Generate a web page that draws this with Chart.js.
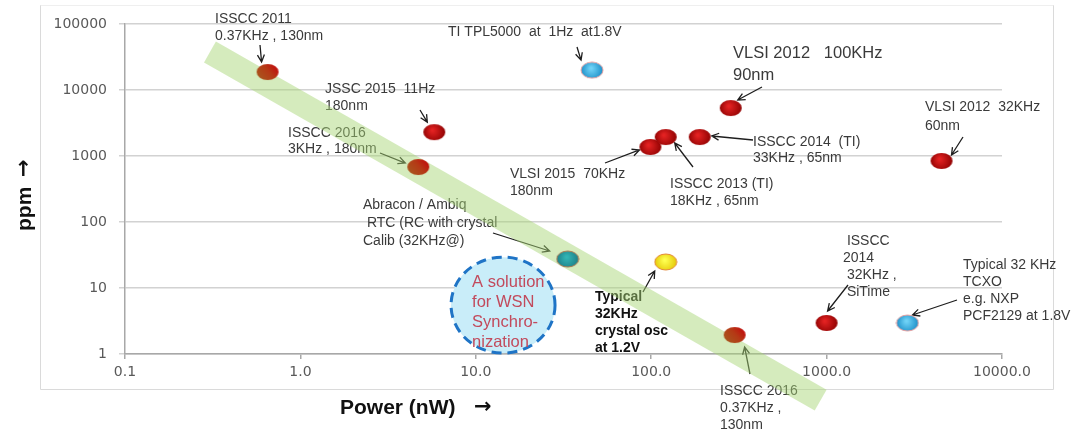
<!DOCTYPE html>
<html>
<head>
<meta charset="utf-8">
<script src="https://cdn.jsdelivr.net/npm/chart.js@4.4.1/dist/chart.umd.min.js"></script>
<style>
  html, body { margin:0; padding:0; background:#fff; }
</style>
</head>
<body>
<canvas id="chart" width="1078" height="432"></canvas>
<script>
// one entry per design
const names = ['ISSCC 2011','JSSC 2015','ISSCC 2016 3KHz','TI TPL5000','VLSI 2015','ISSCC 2013 (TI)','ISSCC 2014 (TI)',
  'VLSI 2012 100KHz','VLSI 2012 32KHz','Abracon / Ambiq','Typical crystal','ISSCC 2016 0.37KHz','ISSCC 2014 SiTime','Typical TCXO'];
const power = [0.65, 5.8, 4.7, 46, 99, 121, 189, 284, 4520, 33.4, 121, 299, 1000, 2890];
const ppm   = [18700, 2300, 680, 20000, 1370, 1940, 1940, 5330, 840, 27.5, 24.8, 1.94, 2.95, 2.95];
const kinds = ['brown','red','brown','blue','red','red','red','red','red','teal','yellow','brown','red','blue'];

// green trend band ends
const trendPower = [0.305, 925];
const trendPpm   = [37700, 0.2];

// "A solution for WSN" zone centre
const wsnPower = 14.3;
const wsnPpm = 5.5;

const xTicks = [0.1, 1, 10, 100, 1000, 10000];
const xTickLabels = ['0.1','1.0','10.0','100.0','1000.0','10000.0'];
const yTicks = [1, 10, 100, 1000, 10000, 100000];
const yTickLabels = ['1','10','100','1000','10000','100000'];

const FONT = '"Liberation Sans", Arial, sans-serif';

// callouts: text block + arrow that ends next to point i
const notes = [
  { i:0,  x:215, y:19,  lh:17, lines:['ISSCC 2011','0.37KHz , 130nm'], from:[260,45], d:[-6,-10] },
  { i:1,  x:325, y:89,  lh:17, lines:['JSSC 2015  11Hz','180nm'], from:[420,110], d:[-7,-10] },
  { i:2,  x:288, y:133, lh:16, lines:['ISSCC 2016','3KHz , 180nm'], from:[380,153], d:[-13,-4] },
  { i:3,  x:448, y:32,  lh:17, lines:['TI TPL5000  at  1Hz  at1.8V'], from:[577,47], d:[-11,-10] },
  { i:4,  x:510, y:174, lh:17, lines:['VLSI 2015  70KHz','180nm'], from:[605,163], d:[-11,3] },
  { i:5,  x:670, y:184, lh:17, lines:['ISSCC 2013 (TI)','18KHz , 65nm'], from:[693,167], d:[9,6] },
  { i:6,  x:753, y:142, lh:16, lines:['ISSCC 2014  (TI)','33KHz , 65nm'], from:[753,140], d:[12,-1] },
  { i:7,  x:733, y:53,  lh:22, size:16.5, lines:['VLSI 2012   100KHz','90nm'], from:[762,87], d:[7,-8] },
  { i:8,  x:925, y:107, lh:19, lines:['VLSI 2012  32KHz','60nm'], from:[963,137], d:[10,-6] },
  { i:9,  x:363, y:205, lh:18, lines:['Abracon / Ambiq',' RTC (RC with crystal','Calib (32KHz@)'], from:[493,233], d:[-18,-8] },
  { i:10, x:595, y:297, lh:17, bold:true, color:'#111', lines:['Typical','32KHz','crystal osc','at 1.2V'], from:[643,292], d:[-11,9] },
  { i:11, x:720, y:391, lh:17, lines:['ISSCC 2016','0.37KHz ,','130nm'], from:[750,374], d:[10,12] },
  { i:12, x:843, y:241, lh:17, lines:[' ISSCC','2014',' 32KHz ,',' SiTime'], from:[848,285], d:[1,-12] },
  { i:13, x:963, y:265, lh:17, lines:['Typical 32 KHz','TCXO','e.g. NXP','PCF2129 at 1.8V'], from:[957,300], d:[5,-8] }
];

function makeDot(kind){
  const c = document.createElement('canvas');
  c.width = 24; c.height = 18;
  const g = c.getContext('2d');
  let fill, edge = null;
  if (kind === 'red') {
    fill = g.createRadialGradient(10,7,1,12,9,12);
    fill.addColorStop(0,'#e32222'); fill.addColorStop(1,'#8a0000');
  } else if (kind === 'brown') {
    fill = g.createLinearGradient(4,16,20,2);
    fill.addColorStop(0,'#a9561e'); fill.addColorStop(0.55,'#b53a16'); fill.addColorStop(1,'#c20c0c');
  } else if (kind === 'blue') {
    fill = g.createRadialGradient(11,7,1,12,9,12);
    fill.addColorStop(0,'#6fd2f6'); fill.addColorStop(1,'#1589c4');
    edge = '#e8a0a0';
  } else if (kind === 'teal') {
    fill = g.createRadialGradient(11,7,1,12,9,12);
    fill.addColorStop(0,'#33b4b4'); fill.addColorStop(1,'#1b7b84');
    edge = '#b07a50';
  } else {
    fill = g.createRadialGradient(11,7,1,12,9,12);
    fill.addColorStop(0,'#ffff50'); fill.addColorStop(1,'#e2c400');
    edge = '#e3893a';
  }
  g.beginPath();
  g.ellipse(12, 9, 11, 8, 0, 0, Math.PI*2);
  g.fillStyle = fill; g.fill();
  if (edge) { g.lineWidth = 1; g.strokeStyle = edge; g.stroke(); }
  return c;
}
const dots = {};
['red','brown','blue','teal','yellow'].forEach(k => dots[k] = makeDot(k));

function arrow(ctx, x1, y1, x2, y2){
  const a = Math.atan2(y2-y1, x2-x1), L = 8, w = 0.45;
  ctx.beginPath();
  ctx.moveTo(x1, y1); ctx.lineTo(x2, y2);
  ctx.moveTo(x2 - L*Math.cos(a-w), y2 - L*Math.sin(a-w));
  ctx.lineTo(x2, y2);
  ctx.lineTo(x2 - L*Math.cos(a+w), y2 - L*Math.sin(a+w));
  ctx.stroke();
}

const decor = {
  id:'decor',
  beforeDraw(chart){
    const ctx = chart.ctx;
    ctx.save();
    ctx.strokeStyle = '#dadada'; ctx.lineWidth = 1;
    ctx.beginPath();
    ctx.moveTo(40.5, 5); ctx.lineTo(40.5, 389.5); ctx.lineTo(1053.5, 389.5); ctx.lineTo(1053.5, 5);
    ctx.stroke();
    ctx.strokeStyle = '#efefef';
    ctx.beginPath(); ctx.moveTo(40.5, 5.5); ctx.lineTo(1053.5, 5.5); ctx.stroke();
    ctx.restore();
  },
  beforeDatasetsDraw(chart){
    const ctx = chart.ctx, xs = chart.scales.x, ys = chart.scales.y;
    ctx.save();
    // WSN zone
    const cx = xs.getPixelForValue(wsnPower), cy = ys.getPixelForValue(wsnPpm);
    ctx.beginPath();
    ctx.ellipse(cx, cy, 52, 48, 0, 0, Math.PI*2);
    ctx.fillStyle = '#c9edf9'; ctx.fill();
    ctx.setLineDash([10, 6]); ctx.lineWidth = 3; ctx.strokeStyle = '#1f74c6'; ctx.stroke();
    ctx.setLineDash([]);
    ctx.fillStyle = '#c24a5c';
    ctx.font = '16.5px ' + FONT;
    ctx.textBaseline = 'middle'; ctx.textAlign = 'left';
    ['A solution','for WSN','Synchro-','nization'].forEach((t, k) => ctx.fillText(t, cx - 31, cy - 23 + k*20));

    // callouts
    notes.forEach(n => {
      ctx.font = (n.bold ? 'bold ' : '') + (n.size || 14) + 'px ' + FONT;
      ctx.fillStyle = n.color || '#3a3a3a';
      n.lines.forEach((t, k) => ctx.fillText(t, n.x, n.y + k*n.lh));
      const px = xs.getPixelForValue(power[n.i]) + n.d[0];
      const py = ys.getPixelForValue(ppm[n.i]) + n.d[1];
      ctx.strokeStyle = '#1e1e1e'; ctx.lineWidth = 1.3;
      arrow(ctx, n.from[0], n.from[1], px, py);
    });
    ctx.restore();
  },
  afterDraw(chart){
    const ctx = chart.ctx;
    ctx.save();
    ctx.fillStyle = '#111';
    ctx.textBaseline = 'middle'; ctx.textAlign = 'left';
    ctx.font = 'bold 21px ' + FONT;
    ctx.fillText('Power (nW)', 340, 408);
    ctx.font = 'bold 21px "DejaVu Sans", sans-serif';
    ctx.fillText('\u2192', 474, 408);
    ctx.translate(25, 231);
    ctx.rotate(-Math.PI/2);
    ctx.font = 'bold 21px ' + FONT;
    ctx.fillText('ppm', 0, 0);
    ctx.font = 'bold 21px "DejaVu Sans", sans-serif';
    ctx.fillText('\u2192', 54, 0);
    ctx.restore();
  }
};

new Chart(document.getElementById('chart'), {
  type:'scatter',
  data:{
    datasets:[
      {
        label:'designs',
        data: power.map((p, k) => ({ x:p, y:ppm[k] })),
        pointStyle: ctx => dots[kinds[ctx.dataIndex]],
        pointRadius: 10,
        showLine:false
      },
      {
        label:'trend',
        type:'line',
        data: trendPower.map((p, k) => ({ x:p, y:trendPpm[k] })),
        borderColor:'rgba(168,214,118,0.48)',
        borderWidth:24,
        borderCapStyle:'butt',
        pointRadius:0,
        clip:false
      }
    ]
  },
  options:{
    responsive:false,
    animation:false,
    events:[],
    layout:{ padding:{ left:0, top:24, right:76, bottom:38 } },
    plugins:{ legend:{ display:false }, tooltip:{ enabled:false } },
    scales:{
      x:{
        type:'logarithmic', min:0.1, max:10000,
        afterBuildTicks: s => { s.ticks = xTicks.map(v => ({ value:v })); },
        afterFit: s => { s.height = 40; },
        ticks:{ autoSkip:false, maxRotation:0, padding:5, color:'#595959',
          font:{ family:'"DejaVu Sans", sans-serif', size:14 },
          callback:(v, i) => xTickLabels[i] },
        grid:{ drawOnChartArea:false, tickLength:5, color:'#a8a8a8', lineWidth:1.5 },
        border:{ color:'#a8a8a8', width:1.5 }
      },
      y:{
        type:'logarithmic', min:1, max:100000,
        afterBuildTicks: s => { s.ticks = yTicks.map(v => ({ value:v })); },
        afterFit: s => { s.width = 125; },
        ticks:{ autoSkip:false, padding:12, color:'#595959',
          font:{ family:'"DejaVu Sans", sans-serif', size:14 },
          callback:(v, i) => yTickLabels[i] },
        grid:{ color:'#d2d2d2', lineWidth:1.5, tickLength:6 },
        border:{ color:'#a8a8a8', width:1.5 }
      }
    }
  },
  plugins:[decor]
});
</script>
</body>
</html>
